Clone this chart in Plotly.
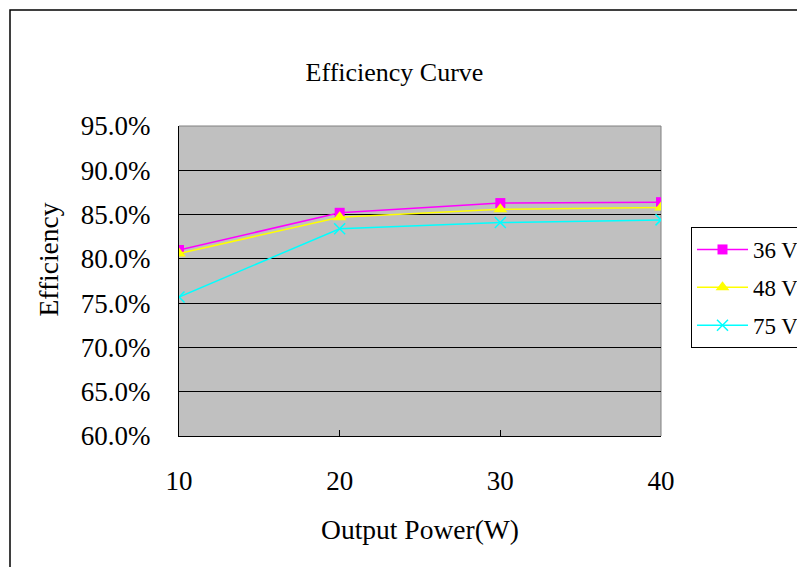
import plotly.graph_objects as go

power = [10, 20, 30, 40]
eff_36v = [81.0, 85.2, 86.3, 86.4]
eff_48v = [80.6, 84.7, 85.6, 85.8]
eff_75v = [75.7, 83.4, 84.1, 84.4]
y_ticks = [60, 65, 70, 75, 80, 85, 90, 95]
y_tick_labels = ["60.0%", "65.0%", "70.0%", "75.0%", "80.0%", "85.0%", "90.0%", "95.0%"]
series_names = ["36 V", "48 V", "75 V"]

FONT = "Liberation Serif, Times New Roman, serif"
OFF = 8  # page body margin
W, H = 805 - OFF, 567 - OFF
# plot area in screen pixels
L, R, T, B = 179, 661, 126, 436

def px(x):
    return (x - L) / (R - L)

def py(y):
    return (B - y) / (B - T)

fig = go.Figure()
fig.add_trace(go.Scatter(x=power, y=eff_36v, name=series_names[0], mode="lines+markers",
                         legendgroup="a",
                         line=dict(color="#FF00FF", width=1.5),
                         marker=dict(symbol="square", size=10, color="#FF00FF")))
fig.add_trace(go.Scatter(x=power, y=eff_48v, name=series_names[1], mode="lines+markers",
                         legendgroup="b",
                         line=dict(color="#FFFF00", width=1.5),
                         marker=dict(symbol="triangle-up", size=12, color="#FFFF00")))
fig.add_trace(go.Scatter(x=power, y=eff_75v, name=series_names[2], mode="lines+markers",
                         legendgroup="c",
                         line=dict(color="#00FFFF", width=1.5),
                         marker=dict(symbol="x-thin-open", size=11, color="#00FFFF",
                                     line=dict(color="#00FFFF", width=1.5))))

fig.update_layout(
    width=W, height=H,
    margin=dict(l=L - OFF, r=W - (R - OFF), t=T - OFF, b=H - (B - OFF), pad=0,
                autoexpand=False),
    paper_bgcolor="white", plot_bgcolor="#C0C0C0",
    font=dict(family=FONT, size=26, color="black"),
    title=dict(text="Efficiency Curve", x=px(394.5), xref="paper", xanchor="center",
               y=1 - (72 - OFF) / H, yref="container", yanchor="middle",
               font=dict(family=FONT, size=26, color="black")),
    showlegend=True,
    legend=dict(x=px(691), y=py(227), xanchor="left", yanchor="top",
                bgcolor="white", bordercolor="black", borderwidth=1,
                font=dict(family=FONT, size=23, color="black"),
                itemwidth=51, tracegroupgap=5),
    xaxis=dict(range=[10, 40], tickvals=power, ticktext=[str(p) for p in power],
               showgrid=False, zeroline=False, showline=True, linecolor="black", linewidth=1,
               ticks="inside", ticklen=6, tickcolor="black",
               ticklabelstandoff=21, tickfont=dict(family=FONT, size=27, color="black"),
               title=dict(text="Output Power(W)", standoff=24,
                          font=dict(family=FONT, size=27.5, color="black"))),
    yaxis=dict(range=[60, 95], tickvals=y_ticks, ticktext=y_tick_labels,
               showgrid=True, gridcolor="black", gridwidth=1, zeroline=False,
               showline=True, linecolor="black", linewidth=1,
               ticks="inside", ticklen=8, tickcolor="black",
               ticklabelstandoff=22, tickfont=dict(family=FONT, size=27, color="black")),
    annotations=[
        dict(text="Efficiency", xref="paper", yref="paper", x=px(48), y=py(259.5),
             xanchor="center", yanchor="middle", textangle=-90, showarrow=False,
             font=dict(family=FONT, size=27.5, color="black")),
    ],
    shapes=[
        dict(type="line", xref="paper", yref="paper", x0=0, x1=1, y0=1, y1=1,
             line=dict(color="#808080", width=1), layer="between"),
        dict(type="line", xref="paper", yref="paper", x0=1, x1=1, y0=0, y1=1,
             line=dict(color="#808080", width=1), layer="between"),
        dict(type="rect", xref="paper", yref="paper", x0=px(10), x1=px(830),
             y0=py(590), y1=py(10), line=dict(color="black", width=1.5),
             fillcolor="rgba(0,0,0,0)", layer="below"),
    ],
)

fig.write_html("out.html")
